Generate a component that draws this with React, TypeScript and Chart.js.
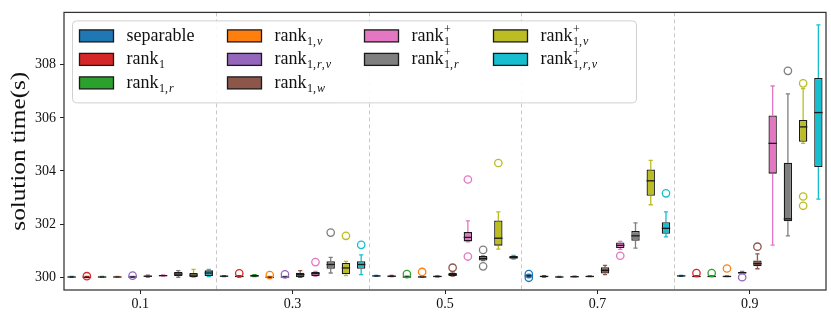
import React, { useEffect, useRef } from "react";
import { Chart, registerables } from "chart.js";

Chart.register(...registerables);

// ---------------- DATA ----------------
const categories = ["0.1", "0.3", "0.5", "0.7", "0.9"];
const yTitle = "solution time(s)";

const seriesNames = [
  "separable", "rank_1", "rank_1,r", "rank_1,v", "rank_1,r,v",
  "rank_1,w", "rank^+_1", "rank^+_1,r", "rank^+_1,v", "rank^+_1,r,v",
];

const seriesColors = [
  "#1f77b4", "#d62728", "#2ca02c", "#ff7f0e", "#9467bd",
  "#8c564b", "#e377c2", "#7f7f7f", "#bcbd22", "#17becf",
];

// legend label pieces: base text, subscript, superscript
const legendBase = ["separable", "rank", "rank", "rank", "rank", "rank", "rank", "rank", "rank", "rank"];
const legendSub = ["", "1", "1,r", "1,v", "1,r,v", "1,w", "1", "1,r", "1,v", "1,r,v"];
const legendSup = ["", "", "", "", "", "", "+", "+", "+", "+"];

// box statistics per series (rows) and category (columns)
const whiskerLow = [
  [300.0, 300.02, 300.03, 300.02, 300.03],
  [299.99, 300.01, 300.02, 300.01, 300.02],
  [300.0, 300.02, 300.0, 300.0, 300.02],
  [300.0, 299.99, 300.0, 300.01, 300.02],
  [300.0, 300.0, 300.01, 300.02, 300.13],
  [300.01, 300.0, 300.04, 300.1, 300.32],
  [300.04, 300.03, 301.33, 301.05, 301.21],
  [300.0, 300.16, 300.63, 301.1, 301.56],
  [300.0, 300.06, 301.06, 302.73, 305.04],
  [300.02, 300.1, 300.68, 301.52, 302.94],
];
const q1 = [
  [300.0, 300.03, 300.04, 300.03, 300.04],
  [299.99, 300.01, 300.02, 300.01, 300.02],
  [300.0, 300.03, 300.0, 300.0, 300.02],
  [300.0, 299.99, 300.0, 300.01, 300.02],
  [300.0, 300.0, 300.01, 300.02, 300.14],
  [300.02, 300.0, 300.05, 300.14, 300.41],
  [300.05, 300.05, 301.35, 301.1, 303.9],
  [300.05, 300.32, 300.63, 301.37, 302.11],
  [300.01, 300.11, 301.19, 303.07, 305.1],
  [300.05, 300.32, 300.7, 301.64, 304.15],
];
const median = [
  [300.01, 300.04, 300.05, 300.05, 300.05],
  [300.0, 300.03, 300.04, 300.03, 300.03],
  [300.01, 300.05, 300.01, 300.01, 300.03],
  [300.01, 300.0, 300.01, 300.02, 300.03],
  [300.01, 300.01, 300.03, 300.03, 300.17],
  [300.04, 300.1, 300.1, 300.26, 300.51],
  [300.06, 300.14, 301.5, 301.2, 305.04],
  [300.12, 300.48, 300.71, 301.56, 302.2],
  [300.08, 300.35, 301.47, 303.63, 305.66],
  [300.16, 300.48, 300.75, 301.84, 306.2],
];
const q3 = [
  [300.02, 300.05, 300.06, 300.08, 300.06],
  [300.02, 300.05, 300.06, 300.05, 300.05],
  [300.02, 300.09, 300.03, 300.02, 300.05],
  [300.02, 300.02, 300.03, 300.04, 300.05],
  [300.02, 300.02, 300.05, 300.05, 300.2],
  [300.06, 300.17, 300.17, 300.38, 300.63],
  [300.08, 300.2, 301.7, 301.31, 306.09],
  [300.2, 300.6, 300.8, 301.74, 304.31],
  [300.16, 300.54, 302.14, 304.06, 305.92],
  [300.26, 300.6, 300.8, 302.07, 307.5],
];
const whiskerHigh = [
  [300.03, 300.06, 300.07, 300.1, 300.07],
  [300.03, 300.06, 300.07, 300.06, 300.06],
  [300.03, 300.1, 300.04, 300.03, 300.06],
  [300.03, 300.03, 300.04, 300.05, 300.06],
  [300.03, 300.03, 300.06, 300.06, 300.22],
  [300.08, 300.25, 300.2, 300.45, 300.88],
  [300.09, 300.22, 302.12, 301.35, 307.2],
  [300.25, 300.75, 300.8, 302.05, 306.9],
  [300.3, 300.6, 302.46, 304.4, 307.1],
  [300.3, 300.84, 300.82, 302.46, 309.5],
];
const outliers = [
  [[], [], [], [299.98, 300.12], []],
  [[300.04], [300.15], [], [], [300.16]],
  [[], [], [300.12], [], [300.16]],
  [[], [300.08], [300.2], [], [300.33]],
  [[300.06], [300.11], [], [], [300.0]],
  [[], [], [300.36], [], [301.15]],
  [[], [300.57], [303.68, 300.78], [300.81], []],
  [[], [301.68], [301.03, 300.41], [], [307.77]],
  [[], [301.56], [304.3], [], [307.3, 303.04, 302.69]],
  [[], [301.22], [], [303.16], []],
];

const yMin = 299.52;
const yMax = 309.97;
const yTickValues = [300, 302, 304, 306, 308];

// ---------------- STYLE ----------------
const SERIF = "'Liberation Serif', 'DejaVu Serif', serif";
const EDGE = "#1a1a1a";

const boxPlugin = {
  id: "boxExtras",
  beforeDatasetsDraw(chart: any) {
    const ctx = chart.ctx;
    const ca = chart.chartArea;
    const xs = chart.scales.x;
    const ys = chart.scales.y;
    ctx.save();
    // dashed separators
    ctx.strokeStyle = "#c8c8c8";
    ctx.lineWidth = 1;
    ctx.setLineDash([4, 3]);
    for (let i = 0; i < categories.length - 1; i++) {
      const x = Math.round((xs.getPixelForValue(i) + xs.getPixelForValue(i + 1)) / 2) + 0.5;
      ctx.beginPath();
      ctx.moveTo(x, ca.top);
      ctx.lineTo(x, ca.bottom);
      ctx.stroke();
    }
    ctx.setLineDash([]);
    // whiskers
    chart.data.datasets.forEach((_: any, s: number) => {
      const meta = chart.getDatasetMeta(s);
      meta.data.forEach((el: any, i: number) => {
        const x = el.x;
        const w = el.width;
        ctx.strokeStyle = seriesColors[s];
        ctx.lineWidth = 1.3;
        const yl = ys.getPixelForValue(whiskerLow[s][i]);
        const yq1 = ys.getPixelForValue(q1[s][i]);
        const yq3 = ys.getPixelForValue(q3[s][i]);
        const yh = ys.getPixelForValue(whiskerHigh[s][i]);
        ctx.beginPath();
        ctx.moveTo(x, yl);
        ctx.lineTo(x, yq1);
        ctx.moveTo(x, yq3);
        ctx.lineTo(x, yh);
        ctx.moveTo(x - w / 4, yl);
        ctx.lineTo(x + w / 4, yl);
        ctx.moveTo(x - w / 4, yh);
        ctx.lineTo(x + w / 4, yh);
        ctx.stroke();
      });
    });
    ctx.restore();
  },
  afterDatasetsDraw(chart: any) {
    const ctx = chart.ctx;
    const ys = chart.scales.y;
    ctx.save();
    chart.data.datasets.forEach((_: any, s: number) => {
      const meta = chart.getDatasetMeta(s);
      meta.data.forEach((el: any, i: number) => {
        const x = el.x;
        const w = el.width;
        const ym = ys.getPixelForValue(median[s][i]);
        ctx.strokeStyle = EDGE;
        ctx.lineWidth = 1.3;
        ctx.beginPath();
        ctx.moveTo(x - w / 2, ym);
        ctx.lineTo(x + w / 2, ym);
        ctx.stroke();
        ctx.strokeStyle = seriesColors[s];
        ctx.lineWidth = 1.3;
        outliers[s][i].forEach((v: number) => {
          ctx.beginPath();
          ctx.arc(x, ys.getPixelForValue(v), 3.7, 0, Math.PI * 2);
          ctx.stroke();
        });
      });
    });
    ctx.restore();
  },
  afterDraw(chart: any) {
    const ctx = chart.ctx;
    const ca = chart.chartArea;
    ctx.save();
    // frame
    ctx.strokeStyle = "#333";
    ctx.lineWidth = 1.25;
    ctx.strokeRect(ca.left, ca.top, ca.right - ca.left, ca.bottom - ca.top);

    // y-axis title (horizontally stretched to mimic Computer Modern width)
    ctx.save();
    ctx.translate(19, (ca.top + ca.bottom) / 2);
    ctx.rotate(-Math.PI / 2);
    ctx.scale(1.2, 1);
    ctx.font = `21px ${SERIF}`;
    ctx.fillStyle = "#111";
    ctx.textAlign = "center";
    ctx.textBaseline = "middle";
    ctx.fillText(yTitle, 0, 0);
    ctx.restore();

    // legend
    const lx = ca.left + 8.5;
    const ly = ca.top + 8.5;
    const lw = 564;
    const lh = 82;
    ctx.beginPath();
    (ctx as any).roundRect(lx, ly, lw, lh, 4);
    ctx.fillStyle = "rgba(255,255,255,0.9)";
    ctx.fill();
    ctx.strokeStyle = "#d0d0d0";
    ctx.lineWidth = 1;
    ctx.stroke();

    const legendCols = [[0, 1, 2], [3, 4, 5], [6, 7], [8, 9]];
    const colOffsets = [7, 155, 292, 421];
    const rowOffsets = [15, 38.5, 62];
    legendCols.forEach((col, c) => {
      col.forEach((s, r) => {
        const px = lx + colOffsets[c];
        const py = ly + rowOffsets[r];
        ctx.fillStyle = seriesColors[s];
        ctx.fillRect(px, py - 6, 34, 12);
        ctx.strokeStyle = EDGE;
        ctx.lineWidth = 1.3;
        ctx.strokeRect(px, py - 6, 34, 12);
        // text
        let tx = px + 47;
        ctx.fillStyle = "#111";
        ctx.textBaseline = "alphabetic";
        ctx.textAlign = "left";
        ctx.font = `18px ${SERIF}`;
        const base = legendBase[s];
        const baseY = py + 5;
        ctx.fillText(base, tx, baseY);
        tx += ctx.measureText(base).width + 0.5;
        const sub = legendSub[s];
        const sup = legendSup[s];
        if (sup) {
          ctx.font = `12px ${SERIF}`;
          ctx.fillText(sup, tx, baseY - 8);
        }
        if (sub) {
          let sx = tx;
          for (const ch of sub) {
            const italic = /[a-z]/.test(ch);
            ctx.font = `${italic ? "italic " : ""}12px ${SERIF}`;
            ctx.fillText(ch, sx, baseY + 4);
            sx += ctx.measureText(ch).width + (ch === "," ? 1 : 0);
          }
        }
      });
    });
    ctx.restore();
  },
};

export default function App() {
  const ref = useRef<HTMLCanvasElement | null>(null);
  useEffect(() => {
    if (!ref.current) return;
    const chart = new Chart(ref.current, {
      type: "bar",
      data: {
        labels: categories,
        datasets: seriesNames.map((n, s) => ({
          label: n,
          data: q1[s].map((v, i) => [v, q3[s][i]]),
          backgroundColor: seriesColors[s],
          borderColor: EDGE,
          borderWidth: 1.3,
          borderSkipped: false,
          categoryPercentage: 1,
          barPercentage: 0.55,
        })),
      } as any,
      options: {
        responsive: false,
        animation: false,
        devicePixelRatio: 1,
        layout: { padding: { left: 0, right: 5, top: 8, bottom: 0 } },
        plugins: { legend: { display: false }, tooltip: { enabled: false } },
        scales: {
          x: {
            grid: { offset: false, drawOnChartArea: false, drawTicks: true, tickLength: 4, color: "#222" },
            border: { display: false },
            ticks: { font: { family: SERIF, size: 14 }, color: "#111", padding: 2, maxRotation: 0 },
            afterFit: (s: any) => { s.height = 31; },
          },
          y: {
            min: yMin,
            max: yMax,
            afterBuildTicks: (a: any) => { a.ticks = yTickValues.map((v) => ({ value: v })); },
            grid: { drawOnChartArea: false, drawTicks: true, tickLength: 4, color: "#222" },
            border: { display: false },
            ticks: { font: { family: SERIF, size: 14 }, color: "#111", padding: 4 },
            title: { display: false },
            afterFit: (s: any) => { s.width = 64; },
          },
        },
      } as any,
      plugins: [boxPlugin],
    });
    return () => chart.destroy();
  }, []);
  return (
    <div style={{ position: "fixed", left: 0, top: 0, width: 831, height: 321, background: "#fff" }}>
      <canvas ref={ref} width={831} height={321} style={{ width: 831, height: 321 }} />
    </div>
  );
}
